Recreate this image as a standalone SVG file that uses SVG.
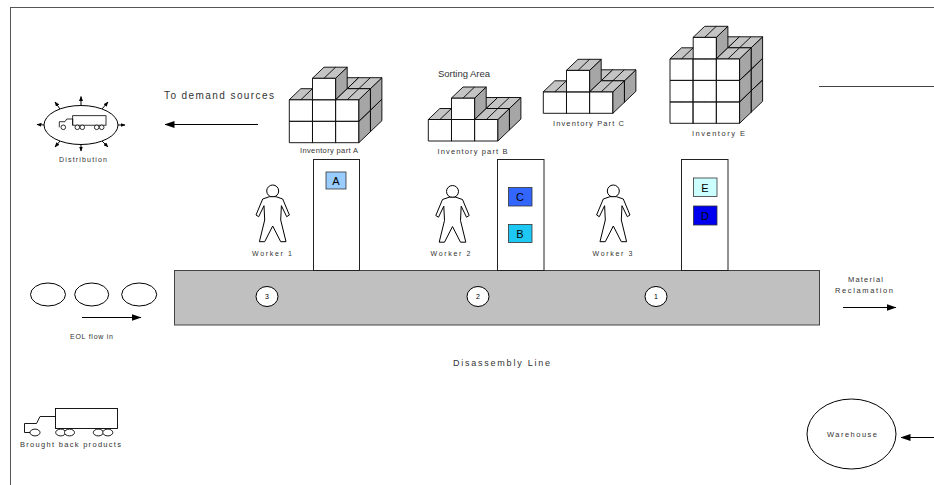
<svg xmlns="http://www.w3.org/2000/svg" xmlns:xlink="http://www.w3.org/1999/xlink" width="934" height="485" viewBox="0 0 934 485">
  <style>
    .lbl { font-family: "Liberation Sans", Arial, sans-serif; fill: #333; text-anchor: middle; }
    .ln { stroke: #000; stroke-width: 1; fill: none; }
    .wb { fill: #fff; stroke: #000; stroke-width: 1; }
    .col { fill: #fff; stroke: #222; stroke-width: 1; }
    .part { stroke: #333; stroke-width: 0.8; }
    .ptxt { font-family: "Liberation Sans", Arial, sans-serif; font-size: 11px; fill: #000; text-anchor: middle; }
    .num { font-family: "Liberation Sans", Arial, sans-serif; font-size: 7px; fill: #000; text-anchor: middle; }
    .worker { fill: #fff; stroke: #000; stroke-width: 1; stroke-linejoin: round; }
  </style>
  <defs>
    <marker id="ah" markerWidth="10" markerHeight="7" refX="9.5" refY="3.5" orient="auto" markerUnits="userSpaceOnUse">
      <path d="M0,0 L10,3.5 L0,7 z" fill="#000"/>
    </marker>
    <marker id="ahs" markerWidth="5" markerHeight="4" refX="4.5" refY="2" orient="auto" markerUnits="userSpaceOnUse">
      <path d="M0,0 L5,2 L0,4 z" fill="#000"/>
    </marker>
    <!-- unit storage cube: origin at front-bottom-left corner -->
    <g id="cube" stroke="#000" stroke-width="0.9" stroke-linejoin="round">
      <rect x="0" y="-21.5" width="23.2" height="21.5" fill="#fff"/>
      <polygon points="23.2,0 23.2,-21.5 34.7,-32.5 34.7,-11" fill="#a6a6a6"/>
      <polygon points="0,-21.5 23.2,-21.5 34.7,-32.5 11.5,-32.5" fill="#c4c4c4"/>
      <line x1="11.6" y1="-21.5" x2="23.1" y2="-32.5"/>
    </g>
    <!-- standing worker figure, head centred at origin -->
    <g id="person">
      <circle cx="0" cy="0" r="6" class="worker"/>
      <path class="worker" d="M-3.3,5.7 L-10,8 L-16.7,24 L-14,25.7 L-8.7,14.7 L-8,29 L-13.3,50.7 L-8,50.7 L0,35 L8,50.7 L13.3,50.7 L8,29 L8.7,14.7 L14,25.7 L16.7,24 L10,8 L3.3,5.7 Z"/>
    </g>
  </defs>

  <rect width="934" height="485" fill="#fff"/>

  <!-- page frame -->
  <g id="frame" stroke="#555" stroke-width="1">
    <line x1="10" y1="7.5" x2="934" y2="7.5"/>
    <line x1="10.5" y1="7.5" x2="10.5" y2="485"/>
    <line x1="819" y1="86.5" x2="934" y2="86.5" stroke="#444"/>
  </g>

  <!-- disassembly line conveyor -->
  <g id="disassembly-line">
    <rect x="174.5" y="270.5" width="645" height="54.5" fill="#c0c0c0" stroke="#444"/>
    <text class="lbl" x="501.5" y="366" font-size="9" textLength="97" lengthAdjust="spacing">Disassembly Line</text>
  </g>

  <!-- stations on the line -->
  <g id="station-3">
    <ellipse cx="267" cy="296.5" rx="11" ry="10" class="wb"/>
    <text class="num" x="267" y="299">3</text>
  </g>
  <g id="station-2">
    <ellipse cx="478" cy="296.5" rx="11" ry="10" class="wb"/>
    <text class="num" x="478" y="299">2</text>
  </g>
  <g id="station-1">
    <ellipse cx="656" cy="296.5" rx="11" ry="10" class="wb"/>
    <text class="num" x="656" y="299">1</text>
  </g>

  <!-- sorting columns with parts -->
  <g id="column-1">
    <rect x="313.5" y="159.5" width="46" height="111" class="col"/>
    <rect x="326" y="172" width="20" height="17" fill="#99ccff" class="part"/>
    <text class="ptxt" x="336" y="184.5">A</text>
  </g>
  <g id="column-2">
    <rect x="497.5" y="159.5" width="46.5" height="111" class="col"/>
    <rect x="508.5" y="187.5" width="23.5" height="18.5" fill="#3366ff" class="part"/>
    <text class="ptxt" x="520" y="200.5">C</text>
    <rect x="508.5" y="224.5" width="23.5" height="18" fill="#1ec8f5" class="part"/>
    <text class="ptxt" x="520" y="237.5">B</text>
  </g>
  <g id="column-3">
    <rect x="681.5" y="159.5" width="46.5" height="111" class="col"/>
    <rect x="693.5" y="178" width="23.5" height="18.5" fill="#ccffff" class="part"/>
    <text class="ptxt" x="705" y="191.5">E</text>
    <rect x="693.5" y="206" width="23.5" height="19" fill="#0000f0" class="part"/>
    <text class="ptxt" x="705" y="219.5">D</text>
  </g>

  <!-- workers -->
  <g id="worker-1">
    <use href="#person" x="272.7" y="191"/>
    <text class="lbl" x="272" y="255.5" font-size="7" textLength="40" lengthAdjust="spacing">Worker 1</text>
  </g>
  <g id="worker-2">
    <use href="#person" x="452.5" y="191.5"/>
    <text class="lbl" x="450.5" y="255.5" font-size="7" textLength="40" lengthAdjust="spacing">Worker 2</text>
  </g>
  <g id="worker-3">
    <use href="#person" x="613.3" y="191"/>
    <text class="lbl" x="612.5" y="255.5" font-size="7" textLength="40" lengthAdjust="spacing">Worker 3</text>
  </g>

  <!-- inventory stacks -->
  <g id="inventory-a">
    <use href="#cube" x="324" y="131.7"/>
    <use href="#cube" x="324" y="110.2"/>
    <use href="#cube" x="347.2" y="131.7"/>
    <use href="#cube" x="347.2" y="110.2"/>
    <use href="#cube" x="289.3" y="142.7"/>
    <use href="#cube" x="289.3" y="121.2"/>
    <use href="#cube" x="312.5" y="142.7"/>
    <use href="#cube" x="312.5" y="121.2"/>
    <use href="#cube" x="312.5" y="99.7"/>
    <use href="#cube" x="335.7" y="142.7"/>
    <use href="#cube" x="335.7" y="121.2"/>
    <text class="lbl" x="329" y="152.5" font-size="7.5" textLength="58" lengthAdjust="spacing">Inventory part A</text>
  </g>

  <g id="inventory-b">
    <use href="#cube" x="463" y="130"/>
    <use href="#cube" x="486.2" y="130"/>
    <use href="#cube" x="428.3" y="141"/>
    <use href="#cube" x="451.5" y="141"/>
    <use href="#cube" x="451.5" y="119.5"/>
    <use href="#cube" x="474.7" y="141"/>
    <text class="lbl" x="464" y="77" font-size="9.5" textLength="52" lengthAdjust="spacing">Sorting Area</text>
    <text class="lbl" x="472.5" y="153.5" font-size="7.5" textLength="70" lengthAdjust="spacing">Inventory part B</text>
  </g>

  <g id="inventory-c">
    <use href="#cube" x="578" y="102.3"/>
    <use href="#cube" x="601.2" y="102.3"/>
    <use href="#cube" x="543.3" y="113.3"/>
    <use href="#cube" x="566.5" y="113.3"/>
    <use href="#cube" x="566.5" y="91.8"/>
    <use href="#cube" x="589.7" y="113.3"/>
    <text class="lbl" x="588.5" y="125.5" font-size="7.5" textLength="71" lengthAdjust="spacing">Inventory Part C</text>
  </g>

  <g id="inventory-e">
    <use href="#cube" x="704.7" y="112.3"/>
    <use href="#cube" x="704.7" y="90.8"/>
    <use href="#cube" x="704.7" y="69.3"/>
    <use href="#cube" x="727.9" y="112.3"/>
    <use href="#cube" x="727.9" y="90.8"/>
    <use href="#cube" x="727.9" y="69.3"/>
    <use href="#cube" x="670" y="123.3"/>
    <use href="#cube" x="670" y="101.8"/>
    <use href="#cube" x="670" y="80.3"/>
    <use href="#cube" x="693.2" y="123.3"/>
    <use href="#cube" x="693.2" y="101.8"/>
    <use href="#cube" x="693.2" y="80.3"/>
    <use href="#cube" x="693.2" y="58.8"/>
    <use href="#cube" x="716.4" y="123.3"/>
    <use href="#cube" x="716.4" y="101.8"/>
    <use href="#cube" x="716.4" y="80.3"/>
    <text class="lbl" x="718.5" y="136" font-size="7.5" textLength="53" lengthAdjust="spacing">Inventory E</text>
  </g>

  <!-- distribution hub -->
  <g id="distribution">
    <ellipse cx="81" cy="125" rx="37" ry="19.5" class="wb"/>
    <g class="ln" marker-end="url(#ahs)">
      <line x1="81" y1="105.5" x2="81" y2="96.5"/>
      <line x1="81" y1="144.5" x2="81" y2="151"/>
      <line x1="44" y1="125" x2="37" y2="124.5"/>
      <line x1="118" y1="125" x2="125" y2="125"/>
      <line x1="60" y1="109" x2="55" y2="102"/>
      <line x1="102" y1="109" x2="108" y2="102"/>
      <line x1="60" y1="141" x2="55" y2="147"/>
      <line x1="102" y1="141" x2="108" y2="147"/>
    </g>
    <g stroke="#000" stroke-width="0.8" fill="#fff">
      <rect x="72.7" y="115.7" width="33.3" height="9.5"/>
      <path d="M59.3,127.3 V121.7 H65 L66.7,119 H72.7 V125.2" fill="none"/>
      <circle cx="63.3" cy="127.3" r="2.3"/>
      <circle cx="77.3" cy="127.3" r="2.3"/>
      <circle cx="82.3" cy="127.3" r="2.3"/>
      <circle cx="96.7" cy="127.3" r="2.3"/>
      <circle cx="101.7" cy="127.3" r="2.3"/>
    </g>
    <text class="lbl" x="83" y="162" font-size="7" textLength="48" lengthAdjust="spacing">Distribution</text>
  </g>

  <!-- end-of-life items arriving -->
  <g id="eol-items">
    <ellipse cx="48" cy="294.5" rx="17.5" ry="11.5" class="wb"/>
    <ellipse cx="91.7" cy="294.5" rx="17" ry="11.5" class="wb"/>
    <ellipse cx="139.2" cy="294.5" rx="17.5" ry="11.5" class="wb"/>
    <text class="lbl" x="91.5" y="338.5" font-size="7" textLength="43" lengthAdjust="spacing">EOL flow in</text>
  </g>

  <!-- returned products truck -->
  <g id="brought-back">
    <g stroke="#000" stroke-width="0.9" fill="#fff">
      <rect x="55.5" y="408.5" width="62" height="20"/>
      <path d="M30,432.5 H24.5 V423.5 H36.5 L40,416.5 H55.5" fill="none"/>
      <ellipse cx="35" cy="432.5" rx="5" ry="3.4"/>
      <ellipse cx="60.7" cy="432.5" rx="5" ry="3.4"/>
      <ellipse cx="69.5" cy="432.5" rx="5" ry="3.4"/>
      <ellipse cx="98.3" cy="432.5" rx="5" ry="3.4"/>
      <ellipse cx="107.8" cy="432.5" rx="5" ry="3.4"/>
    </g>
    <text class="lbl" x="70.5" y="447" font-size="7.5" textLength="101" lengthAdjust="spacing">Brought back products</text>
  </g>

  <!-- material reclamation exit -->
  <g id="reclamation">
    <text class="lbl" x="865.5" y="282" font-size="7.5" textLength="35" lengthAdjust="spacing">Material</text>
    <text class="lbl" x="864" y="293" font-size="7.5" textLength="58" lengthAdjust="spacing">Reclamation</text>
  </g>

  <!-- warehouse -->
  <g id="warehouse">
    <ellipse cx="851.5" cy="434" rx="44.5" ry="35" class="wb"/>
    <text class="lbl" x="852" y="437" font-size="7.5" textLength="50" lengthAdjust="spacing">Warehouse</text>
  </g>

  <!-- flows -->
  <g id="connectors" class="ln" marker-end="url(#ah)">
    <line x1="258" y1="124.5" x2="165" y2="124.5"/>
    <line x1="82" y1="317.5" x2="141" y2="317.5"/>
    <line x1="843" y1="307.5" x2="896" y2="307.5"/>
    <line x1="934" y1="437.5" x2="901" y2="437.5"/>
  </g>
  <g id="demand-label">
    <text class="lbl" x="219" y="99" font-size="10" textLength="110" lengthAdjust="spacing">To demand sources</text>
  </g>
</svg>
